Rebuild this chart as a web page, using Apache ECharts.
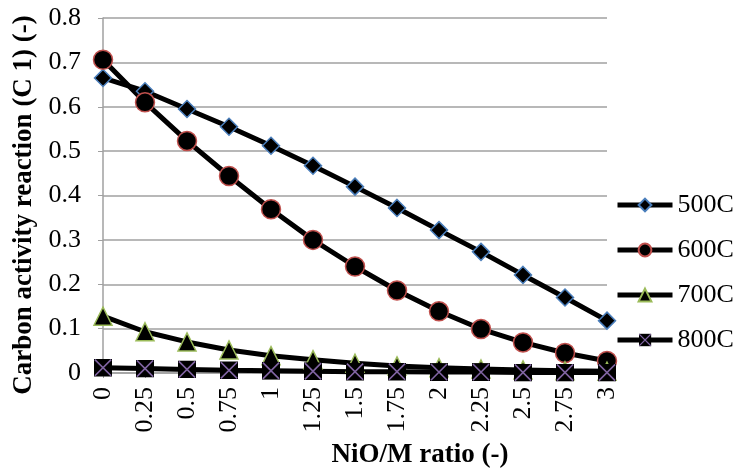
<!DOCTYPE html>
<html>
<head>
<meta charset="utf-8">
<script src="https://cdn.jsdelivr.net/npm/echarts@6/dist/echarts.min.js"></script>
<style>
  html, body { margin: 0; padding: 0; background: #fff; }
  #chart { width: 735px; height: 474px; }
</style>
</head>
<body>
<div id="chart"></div>
<script>
// NiO/M ratio categories
const ratios = ['0', '0.25', '0.5', '0.75', '1', '1.25', '1.5', '1.75', '2', '2.25', '2.5', '2.75', '3'];

// Carbon activity per temperature
const c500 = [0.665, 0.635, 0.595, 0.555, 0.512, 0.467, 0.420, 0.372, 0.322, 0.273, 0.221, 0.170, 0.118];
const c600 = [0.706, 0.610, 0.523, 0.444, 0.369, 0.300, 0.240, 0.186, 0.139, 0.099, 0.069, 0.045, 0.027];
const c700 = [0.128, 0.093, 0.070, 0.052, 0.039, 0.030, 0.022, 0.016, 0.012, 0.009, 0.007, 0.005, 0.004];
const c800 = [0.012, 0.010, 0.008, 0.006, 0.005, 0.004, 0.003, 0.003, 0.002, 0.002, 0.001, 0.001, 0.001];

const seriesNames = ['500C', '600C', '700C', '800C'];
const FONT = 'Liberation Serif';

// black square with a purple cross, as an inline SVG image
const crossSvg =
  '<svg xmlns="http://www.w3.org/2000/svg" width="20" height="20" viewBox="0 0 20 20">' +
  '<rect x="0" y="0" width="20" height="20" fill="#000"/>' +
  '<path d="M1,1L19,19M19,1L1,19" stroke="#8064a2" stroke-width="1.8" fill="none"/></svg>';
const crossBox = 'image://data:image/svg+xml;charset=utf-8,' + encodeURIComponent(crossSvg);

function makeSeries(name, data, symbol, size, border) {
  return {
    name: name,
    type: 'line',
    data: data,
    symbol: symbol,
    symbolSize: size,
    showAllSymbol: true,
    lineStyle: { color: '#000', width: 5 },
    itemStyle: { color: '#000', borderColor: border, borderWidth: 1.5 },
    emphasis: { disabled: true },
    animation: false
  };
}

const chart = echarts.init(document.getElementById('chart'));
chart.setOption({
  backgroundColor: '#fff',
  animation: false,
  grid: { left: 103, right: 128, top: 18, bottom: 99 },
  legend: {
    orient: 'vertical',
    left: 615,
    top: 192,
    padding: 0,
    itemWidth: 55,
    itemHeight: 16,
    itemGap: 19,
    data: seriesNames,
    lineStyle: { width: 5, color: '#000' },
    textStyle: { fontFamily: FONT, fontSize: 26, lineHeight: 26, color: '#000' }
  },
  xAxis: {
    type: 'category',
    data: ratios,
    boundaryGap: false,
    name: 'NiO/M ratio (-)',
    nameLocation: 'middle',
    nameGap: 69,
    nameTextStyle: { fontFamily: FONT, fontSize: 27, fontWeight: 'bold', color: '#000', padding: [0, 0, 0, 130] },
    axisLine: { lineStyle: { color: '#a0a0a0', width: 1.5 } },
    axisTick: { show: true, length: 5, alignWithLabel: true, lineStyle: { color: '#a0a0a0' } },
    axisLabel: { rotate: 90, fontFamily: FONT, fontSize: 26, color: '#000', margin: 14, interval: 0 },
    splitLine: { show: false }
  },
  yAxis: {
    type: 'value',
    min: 0,
    max: 0.8,
    interval: 0.1,
    name: 'Carbon activity reaction (C 1) (-)',
    nameLocation: 'middle',
    nameRotate: 90,
    nameGap: 63,
    nameTextStyle: { fontFamily: FONT, fontSize: 27, fontWeight: 'bold', color: '#000', padding: [0, 19, 0, 0] },
    axisLine: { show: true, lineStyle: { color: '#a0a0a0', width: 1.5 } },
    axisTick: { show: true, length: 5, lineStyle: { color: '#a0a0a0' } },
    axisLabel: {
      fontFamily: FONT, fontSize: 26, color: '#000', margin: 22,
      formatter: v => (v === 0 ? '0' : v.toFixed(1))
    },
    splitLine: { lineStyle: { color: '#a0a0a0', width: 1.5 } }
  },
  series: [
    makeSeries('500C', c500, 'diamond', 17, '#4a7ebb'),
    makeSeries('600C', c600, 'circle', 19, '#c0504d'),
    makeSeries('700C', c700, 'triangle', 18, '#9bbb59'),
    makeSeries('800C', c800, crossBox, 18, '#8064a2')
  ]
});
</script>
</body>
</html>
